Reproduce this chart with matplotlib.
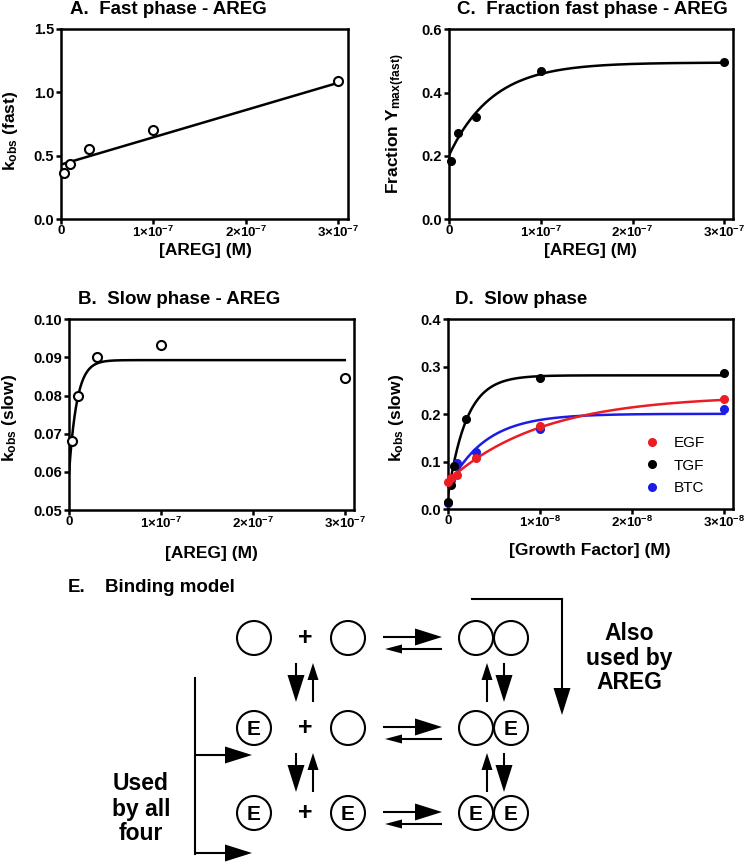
import numpy as np
import matplotlib
matplotlib.use('Agg')
import matplotlib.pyplot as plt
from matplotlib.patches import Circle, Polygon

plt.rcParams['font.family'] = ['Liberation Sans', 'DejaVu Sans']
plt.rcParams['font.weight'] = 'bold'
plt.rcParams['axes.labelweight'] = 'bold'
plt.rcParams['mathtext.default'] = 'regular'

# ---- data ----
areg_x = [3e-9, 1e-8, 3e-8, 1e-7, 3e-7]
fast_kobs = [0.363, 0.434, 0.55, 0.70, 1.092]
fast_fraction = [0.184, 0.274, 0.324, 0.467, 0.496]
slow_kobs = [0.068, 0.080, 0.090, 0.0932, 0.0845]

egf_x = [0, 3e-10, 1e-9, 3e-9, 1e-8, 3e-8]
egf_y = [0.058, 0.066, 0.072, 0.109, 0.175, 0.233]
tgf_x = [0, 3e-10, 6e-10, 2e-9, 1e-8, 3e-8]
tgf_y = [0.016, 0.052, 0.092, 0.19, 0.277, 0.288]
btc_x = [0, 3e-10, 1e-9, 3e-9, 1e-8, 3e-8]
btc_y = [0.013, 0.062, 0.098, 0.12, 0.17, 0.211]

# fitted curves (parameters)
line_a = (0.43, 2.15e6)              # intercept, slope
assoc_c = (0.20, 0.495, 2.1e7)       # Y0, plateau, K
assoc_b = (0.0596, 0.0893, 1.16e8)
assoc_egf = (0.060, 0.240, 9.8e7)
assoc_tgf = (0.028, 0.282, 5.0e8)
assoc_btc = (0.045, 0.201, 2.5e8)

areg_ticks = [0, 1e-7, 2e-7, 3e-7]
areg_labels = ['0', '1×10$^{-7}$', '2×10$^{-7}$', '3×10$^{-7}$']
gf_ticks = [0, 1e-8, 2e-8, 3e-8]
gf_labels = ['0', '1×10$^{-8}$', '2×10$^{-8}$', '3×10$^{-8}$']

W, H = 745, 863
fig = plt.figure(figsize=(W / 100, H / 100), dpi=100)

RED = '#ec1c24'
BLUE = '#1c1ce6'


def px_axes(l, t, r, b):
    return fig.add_axes([l / W, 1 - b / H, (r - l) / W, (b - t) / H])


def ftext(x, y, s, **kw):
    return fig.text(x / W, 1 - y / H, s, ha=kw.pop('ha', 'center'), va=kw.pop('va', 'center'), **kw)


def style(ax, xt, xl, yt, yl):
    for s in ax.spines.values():
        s.set_linewidth(1.8)
    ax.tick_params(direction='out', length=3.5, width=1.8, labelsize=10.5, pad=1.5)
    ax.tick_params(axis='x', pad=0.5, labelsize=9.5)
    ax.set_xticks(xt)
    ax.set_xticklabels(xl)
    ax.set_yticks(yt)
    ax.set_yticklabels(yl)


def assoc(p, x):
    y0, top, k = p
    return y0 + (top - y0) * (1 - np.exp(-k * x))


# ---- A ----
ax = px_axes(61, 29, 348, 219)
ax.set_xlim(0, 3.108e-7)
ax.set_ylim(0, 1.5)
xx = np.linspace(0, 3e-7, 50)
ax.plot(xx, line_a[0] + line_a[1] * xx, color='black', lw=1.8)
ax.plot(areg_x, fast_kobs, 'o', mfc='white', mec='black', ms=6.5, mew=1.5, clip_on=False, zorder=5)
style(ax, areg_ticks, areg_labels, [0, 0.5, 1.0, 1.5], ['0.0', '0.5', '1.0', '1.5'])
ftext(205, 250, '[AREG] (M)', fontsize=12.5)
ftext(10, 131, 'k$_{obs}$ (fast)', fontsize=12.5, rotation=90)
ftext(70, 10, 'A.  Fast phase - AREG', fontsize=13.5, ha='left')

# ---- C ----
ax = px_axes(448.7, 29.3, 732.7, 219.3)
ax.set_xlim(0, 3.09e-7)
ax.set_ylim(0, 0.6)
xx = np.linspace(0, 3e-7, 300)
ax.plot(xx, assoc(assoc_c, xx), color='black', lw=1.8)
ax.plot(areg_x, fast_fraction, 'o', color='black', ms=5.5, clip_on=False, zorder=5)
style(ax, areg_ticks, areg_labels, [0, 0.2, 0.4, 0.6], ['0.0', '0.2', '0.4', '0.6'])
ftext(590, 250, '[AREG] (M)', fontsize=12.5)
ftext(396, 124, 'Fraction Y$_{max(fast)}$', fontsize=12.5, rotation=90)
ftext(457, 10, 'C.  Fraction fast phase - AREG', fontsize=13.5, ha='left')

# ---- B ----
ax = px_axes(69, 319.3, 354, 510)
ax.set_xlim(0, 3.1e-7)
ax.set_ylim(0.05, 0.10)
xx = np.linspace(0, 3e-7, 600)
ax.plot(xx, assoc(assoc_b, xx), color='black', lw=1.8)
ax.plot(areg_x, slow_kobs, 'o', mfc='white', mec='black', ms=6.5, mew=1.5, clip_on=False, zorder=5)
style(ax, areg_ticks, areg_labels, [0.05, 0.06, 0.07, 0.08, 0.09, 0.10],
      ['0.05', '0.06', '0.07', '0.08', '0.09', '0.10'])
ftext(211, 553, '[AREG] (M)', fontsize=12.5)
ftext(10, 418, 'k$_{obs}$ (slow)', fontsize=12.5, rotation=90)
ftext(78, 300, 'B.  Slow phase - AREG', fontsize=13.5, ha='left')

# ---- D ----
ax = px_axes(448, 319.3, 732.7, 509.3)
ax.set_xlim(0, 3.09e-8)
ax.set_ylim(0, 0.4)
xx = np.linspace(0, 3e-8, 600)
ax.plot(xx, assoc(assoc_tgf, xx), color='black', lw=1.8)
ax.plot(xx, assoc(assoc_btc, xx), color=BLUE, lw=1.8)
ax.plot(xx, assoc(assoc_egf, xx), color=RED, lw=1.8)
ax.plot(btc_x, btc_y, 'o', color=BLUE, ms=5.5, clip_on=False, zorder=5)
ax.plot(tgf_x, tgf_y, 'o', color='black', ms=5.5, clip_on=False, zorder=5)
ax.plot(egf_x, egf_y, 'o', color=RED, ms=5.5, clip_on=False, zorder=6)
style(ax, gf_ticks, gf_labels, [0, 0.1, 0.2, 0.3, 0.4], ['0.0', '0.1', '0.2', '0.3', '0.4'])
hs = [plt.Line2D([], [], ls='none', marker='o', color=c, ms=5.5) for c in (RED, 'black', BLUE)]
ax.legend(hs, ['EGF', 'TGF', 'BTC'], loc='upper left', bbox_to_anchor=((640 - 448) / 284.7, (509.3 - 430) / 190),
          frameon=False, handlelength=0.8, handletextpad=1.0, labelspacing=0.55, borderaxespad=0,
          prop={'size': 11, 'weight': 'normal'})
ftext(590, 550, '[Growth Factor] (M)', fontsize=12.5)
ftext(396, 418, 'k$_{obs}$ (slow)', fontsize=12.5, rotation=90)
ftext(455, 300, 'D.  Slow phase', fontsize=13.5, ha='left')

# ---- E: binding model diagram (pixel coordinates) ----
de = fig.add_axes([0, 0, 1, 1])
de.set_xlim(0, W)
de.set_ylim(H, 0)
de.axis('off')
de.patch.set_alpha(0)


def arrow(x0, y0, x1, y1, hl, hw, lw=1.5):
    d = np.array([x1 - x0, y1 - y0], dtype=float)
    u = d / np.hypot(*d)
    n = np.array([-u[1], u[0]])
    base = np.array([x1, y1]) - u * hl
    de.plot([x0, base[0] + u[0] * 2], [y0, base[1] + u[1] * 2], color='black', lw=lw, solid_capstyle='butt')
    pts = [[x1, y1], base + n * hw / 2, base - n * hw / 2]
    de.add_patch(Polygon(pts, closed=True, color='black', lw=0))


def mol(x, y, label=''):
    de.add_patch(Circle((x, y), 17, fill=False, lw=1.5, ec='black'))
    if label:
        de.text(x, y + 1, label, fontsize=15, ha='center', va='center')


ftext(68, 588, 'E.', fontsize=13.5, ha='left')
ftext(105, 588, 'Binding model', fontsize=13.5, ha='left')

rows = [(638, '', ''), (728, 'E', ''), (813, 'E', 'E')]
for y, a, b in rows:
    mol(254, y, a)
    de.text(305, y, '+', fontsize=18, ha='center', va='center')
    mol(348, y, b)
    mol(476, y, b)
    mol(511, y, 'E' if a else '')
    arrow(383, y - 1, 442, y - 1, 27, 17)
    arrow(442, y + 11, 385, y + 11, 17, 9)

for y0, y1 in [(663, 702), (753, 792)]:
    arrow(296, y0, 296, y1, 27, 17)
    arrow(313, y1, 313, y0, 17, 11)
    arrow(487, y1, 487, y0, 17, 11)
    arrow(504, y0, 504, y1, 27, 17)

# AREG bracket
de.plot([472, 562], [599, 599], color='black', lw=1.5)
arrow(562, 598.3, 562, 715, 27, 17)
for yy, t in zip([633, 658, 682], ['Also', 'used by', 'AREG']):
    de.text(629, yy, t, fontsize=16.5, ha='center', va='center')

# all-four bracket
de.plot([195, 195], [678, 853.7], color='black', lw=1.5)
arrow(194.3, 755, 252, 755, 27, 17)
arrow(194.3, 853, 252, 853, 27, 17)
for yy, t in zip([783, 809, 833], ['Used', 'by all', 'four']):
    de.text(141, yy, t, fontsize=16.5, ha='center', va='center')

fig.savefig('out.png', dpi=100)
